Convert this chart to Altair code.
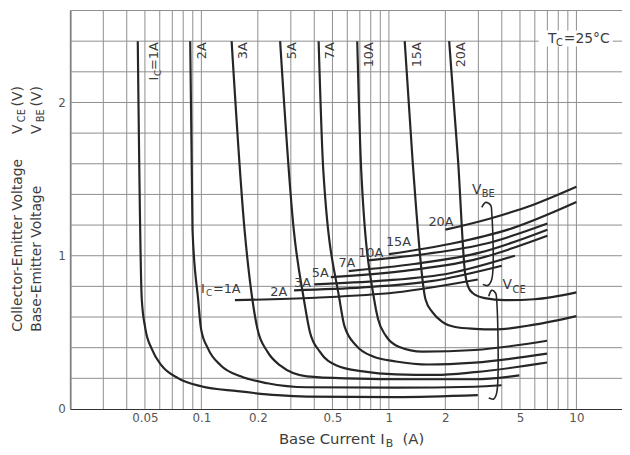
import altair as alt
import pandas as pd

FONT = "DejaVu Sans"
INK = "#262626"
TXT = "#3c3c3c"
GRID = "#8e8e8e"

# ---------------- data ----------------
# V_CE(sat) curves, base current (A) vs voltage (V)
vce_1a_x = [0.0458, 0.0481, 0.0503, 0.0543, 0.0613, 0.0754, 0.0996, 0.156, 0.254, 0.365, 1.09, 2.98]
vce_1a_y = [2.40, 0.716, 0.523, 0.394, 0.284, 0.200, 0.148, 0.116, 0.090, 0.081, 0.077, 0.090]
vce_2a_x = [0.0872, 0.0897, 0.0961, 0.0996, 0.1085, 0.127, 0.162, 0.225, 0.365, 1.09, 2.87, 3.99]
vce_2a_y = [2.40, 1.168, 0.716, 0.523, 0.394, 0.284, 0.213, 0.168, 0.142, 0.139, 0.145, 0.155]
vce_3a_x = [0.145, 0.170, 0.187, 0.199, 0.225, 0.263, 0.365, 0.593, 1.39, 2.87, 4.96]
vce_3a_y = [2.40, 1.168, 0.716, 0.523, 0.374, 0.284, 0.213, 0.200, 0.194, 0.194, 0.219]
vce_5a_x = [0.263, 0.311, 0.352, 0.379, 0.428, 0.526, 0.729, 1.09, 1.77, 2.87, 6.97]
vce_5a_y = [2.40, 1.168, 0.716, 0.503, 0.374, 0.284, 0.245, 0.226, 0.222, 0.240, 0.303]
vce_7a_x = [0.422, 0.447, 0.545, 0.579, 0.670, 0.824, 1.09, 1.625, 2.87, 6.97]
vce_7a_y = [2.40, 1.555, 0.716, 0.542, 0.413, 0.342, 0.310, 0.290, 0.303, 0.361]
vce_10a_x = [0.678, 0.712, 0.834, 0.875, 0.964, 1.129, 1.511, 2.87, 6.97]
vce_10a_y = [2.40, 1.555, 0.716, 0.587, 0.477, 0.406, 0.374, 0.385, 0.445]
vce_15a_x = [1.214, 1.338, 1.567, 1.706, 1.926, 2.256, 2.874, 3.665, 5.95, 10.0]
vce_15a_y = [2.40, 1.619, 0.716, 0.632, 0.568, 0.535, 0.523, 0.519, 0.550, 0.606]
vce_20a_x = [2.096, 2.339, 2.546, 2.641, 2.806, 3.246, 4.139, 5.957, 10.0]
vce_20a_y = [2.40, 1.619, 0.890, 0.800, 0.755, 0.723, 0.710, 0.716, 0.761]

# V_BE curves
vbe_1a_x = [0.151, 0.404, 1.08, 2.98]
vbe_1a_y = [0.710, 0.726, 0.760, 0.845]
vbe_2a_x = [0.312, 0.724, 1.68, 4.0]
vbe_2a_y = [0.774, 0.793, 0.834, 0.935]
vbe_3a_x = [0.40, 0.92, 2.12, 4.7]
vbe_3a_y = [0.813, 0.837, 0.886, 1.00]
vbe_5a_x = [0.49, 1.18, 2.83, 7.0]
vbe_5a_y = [0.860, 0.900, 0.973, 1.13]
vbe_7a_x = [0.61, 1.36, 3.05, 7.0]
vbe_7a_y = [0.900, 0.946, 1.02, 1.17]
vbe_10a_x = [0.775, 1.60, 3.31, 7.0]
vbe_10a_y = [0.970, 1.013, 1.08, 1.21]
vbe_15a_x = [1.0, 2.14, 4.57, 10.0]
vbe_15a_y = [1.010, 1.078, 1.18, 1.35]
vbe_20a_x = [2.0, 3.4, 5.8, 10.0]
vbe_20a_y = [1.170, 1.24, 1.33, 1.45]

# braces grouping the two families
brace_vbe_x = [3.13, 3.287, 3.491, 3.534, 3.534, 3.366, 3.168]
brace_vbe_y = [1.316, 1.348, 1.329, 1.284, 0.845, 0.806, 0.813]
brace_vce_x = [3.408, 3.534, 3.709, 3.754, 3.754, 3.621, 3.408]
brace_vce_y = [0.735, 0.774, 0.755, 0.716, 0.103, 0.065, 0.071]

ic_names = ["1A", "2A", "3A", "5A", "7A", "10A", "15A", "20A"]
vce_x = [vce_1a_x, vce_2a_x, vce_3a_x, vce_5a_x, vce_7a_x, vce_10a_x, vce_15a_x, vce_20a_x]
vce_y = [vce_1a_y, vce_2a_y, vce_3a_y, vce_5a_y, vce_7a_y, vce_10a_y, vce_15a_y, vce_20a_y]
vbe_x = [vbe_1a_x, vbe_2a_x, vbe_3a_x, vbe_5a_x, vbe_7a_x, vbe_10a_x, vbe_15a_x, vbe_20a_x]
vbe_y = [vbe_1a_y, vbe_2a_y, vbe_3a_y, vbe_5a_y, vbe_7a_y, vbe_10a_y, vbe_15a_y, vbe_20a_y]

# horizontal V_BE labels (left edge, baseline)
vbe_lbl_text = ["2A", "3A", "5A", "7A", "10A", "15A", "20A"]
vbe_lbl_x = [0.233, 0.312, 0.388, 0.538, 0.686, 0.964, 1.625]
vbe_lbl_y = [0.735, 0.794, 0.858, 0.929, 0.994, 1.065, 1.195]

x_grid = [0.02, 0.03, 0.04, 0.05, 0.06, 0.07, 0.08, 0.09,
          0.1, 0.2, 0.3, 0.4, 0.5, 0.6, 0.7, 0.8, 0.9,
          1, 2, 3, 4, 5, 6, 7, 8, 9, 10]
x_ticks = [0.05, 0.1, 0.2, 0.5, 1, 2, 5, 10]
y_grid = [0.2, 0.4, 0.6, 0.8, 1.0, 1.2, 1.4, 1.6, 1.8, 2.0, 2.2, 2.4, 2.6]
y_ticks = [0, 1, 2]

# ---------------- tables ----------------
rows = []
for name, xs_, ys_ in zip(ic_names, vce_x, vce_y):
    for i, (a, b) in enumerate(zip(xs_, ys_)):
        rows.append({"x": a, "y": b, "c": "vce" + name, "o": i})
for name, xs_, ys_ in zip(ic_names, vbe_x, vbe_y):
    for i, (a, b) in enumerate(zip(xs_, ys_)):
        rows.append({"x": a, "y": b, "c": "vbe" + name, "o": i})
curves = pd.DataFrame(rows)

brows = []
for name, xs_, ys_ in [("vbe", brace_vbe_x, brace_vbe_y), ("vce", brace_vce_x, brace_vce_y)]:
    for i, (a, b) in enumerate(zip(xs_, ys_)):
        brows.append({"x": a, "y": b, "c": name, "o": i})
braces = pd.DataFrame(brows)

xs = alt.Scale(type="log", domain=[0.02, 17.5])
ys = alt.Scale(domain=[0, 2.6])

x_axis = alt.Axis(values=x_ticks, format="~g", grid=False, ticks=False,
                  domainColor="#333333", domainWidth=1.2,
                  labelFont=FONT, labelFontSize=12, labelColor="#555555", labelPadding=4,
                  labelOverlap=False, labelFlush=False, title=None)
y_axis = alt.Axis(values=y_ticks, format="~g", grid=False, ticks=False,
                  domainColor="#333333", domainWidth=1.2,
                  labelFont=FONT, labelFontSize=12, labelColor="#555555", labelPadding=5,
                  labelOverlap=False, title=None)

X = lambda: alt.X("x:Q", scale=xs, title=None)
Y = lambda: alt.Y("y:Q", scale=ys, title=None)

vgrid = alt.Chart(pd.DataFrame({"x": x_grid})).mark_rule(color=GRID, strokeWidth=1).encode(
    x=alt.X("x:Q", scale=xs, axis=x_axis))
hgrid = alt.Chart(pd.DataFrame({"y": y_grid})).mark_rule(color=GRID, strokeWidth=1).encode(
    y=alt.Y("y:Q", scale=ys, axis=y_axis))

lines = alt.Chart(curves).mark_line(interpolate="monotone", strokeWidth=2.2, color=INK).encode(
    x=X(), y=Y(), detail="c:N", order="o:Q")

brace_layer = alt.Chart(braces).mark_line(interpolate="catmull-rom", strokeWidth=1.6, color=INK).encode(
    x=X(), y=Y(), detail="c:N", order="o:Q")

# white box behind the temperature note
tc_box = alt.Chart(pd.DataFrame({"x": [6.3], "x2": [15.6], "y": [2.365], "y2": [2.47]})).mark_rect(
    color="white").encode(x=X(), x2="x2:Q", y=Y(), y2="y2:Q")


def seg(x, y, text, dx=0, dy=0, size=13, angle=0, align="left"):
    return alt.Chart(pd.DataFrame({"x": [x], "y": [y], "t": [text]})).mark_text(
        dx=dx, dy=dy, fontSize=size, angle=angle, align=align, baseline="alphabetic",
        font=FONT, color=TXT).encode(x=X(), y=Y(), text="t:N")


def pseg(px, py, text, size=14, angle=0, align="left"):
    return alt.Chart(pd.DataFrame({"t": [text]})).mark_text(
        fontSize=size, angle=angle, align=align, baseline="alphabetic",
        font=FONT, color=TXT).encode(x=alt.value(px), y=alt.value(py), text="t:N")


texts = []
# rotated labels at the top of each V_CE curve (dx runs along the text, dy across it)
top_y = 2.4
texts.append(seg(vce_1a_x[0], top_y, "=1A", dx=-1, dy=20, angle=270, align="right"))
texts.append(seg(vce_1a_x[0], top_y, "C", dx=-29, dy=23, size=9, angle=270, align="right"))
texts.append(seg(vce_1a_x[0], top_y, "I", dx=-36, dy=20, angle=270, align="right"))
for name, xs_ in zip(ic_names[1:], vce_x[1:]):
    texts.append(seg(xs_[0], top_y, name, dx=-1, dy=16, angle=270, align="right"))

# horizontal V_BE labels
texts.append(seg(0.0996, 0.755, "I"))
texts.append(seg(0.0996, 0.755, "C", dx=5, dy=3, size=9))
texts.append(seg(0.0996, 0.755, "=1A", dx=12))
for t, a, b in zip(vbe_lbl_text, vbe_lbl_x, vbe_lbl_y):
    texts.append(seg(a, b, t))

# family labels
texts.append(seg(2.772, 1.406, "V", size=14))
texts.append(seg(2.772, 1.406, "BE", dx=10, dy=4, size=10))
texts.append(seg(4.04, 0.781, "V", size=14))
texts.append(seg(4.04, 0.781, "CE", dx=10, dy=4, size=10))

# temperature note
texts.append(seg(6.72, 2.39, "T", dx=4, size=14))
texts.append(seg(6.72, 2.39, "C", dx=12, dy=3, size=10))
texts.append(seg(6.72, 2.39, "=25°C", dx=20, size=14))

# axis titles (composed so the subscripts stay real text)
texts.append(pseg(211, 438, "Base Current I", size=15))
texts.append(pseg(319, 441, "B", size=11))
texts.append(pseg(336, 438, "(A)", size=15))
texts.append(pseg(-49, 325, "Collector-Emitter Voltage", angle=270))
texts.append(pseg(-49, 125, "V", angle=270))
texts.append(pseg(-46, 113, "CE", size=10, angle=270))
texts.append(pseg(-49, 97, "(V)", angle=270))
texts.append(pseg(-30, 325, "Base-Emitter Voltage", angle=270))
texts.append(pseg(-30, 125, "V", angle=270))
texts.append(pseg(-27, 113, "BE", size=10, angle=270))
texts.append(pseg(-30, 97, "(V)", angle=270))

chart = alt.layer(vgrid, hgrid, lines, tc_box, brace_layer, *texts).properties(
    width=558, height=403,
    autosize=alt.AutoSizeParams(type="none"),
    padding={"left": 63, "top": 0, "right": 0, "bottom": 44},
).configure_view(stroke=None).configure_axis(labelOverlap=False, grid=False, ticks=False)

chart.save("out.html", embed_options={"renderer": "svg", "actions": False})
